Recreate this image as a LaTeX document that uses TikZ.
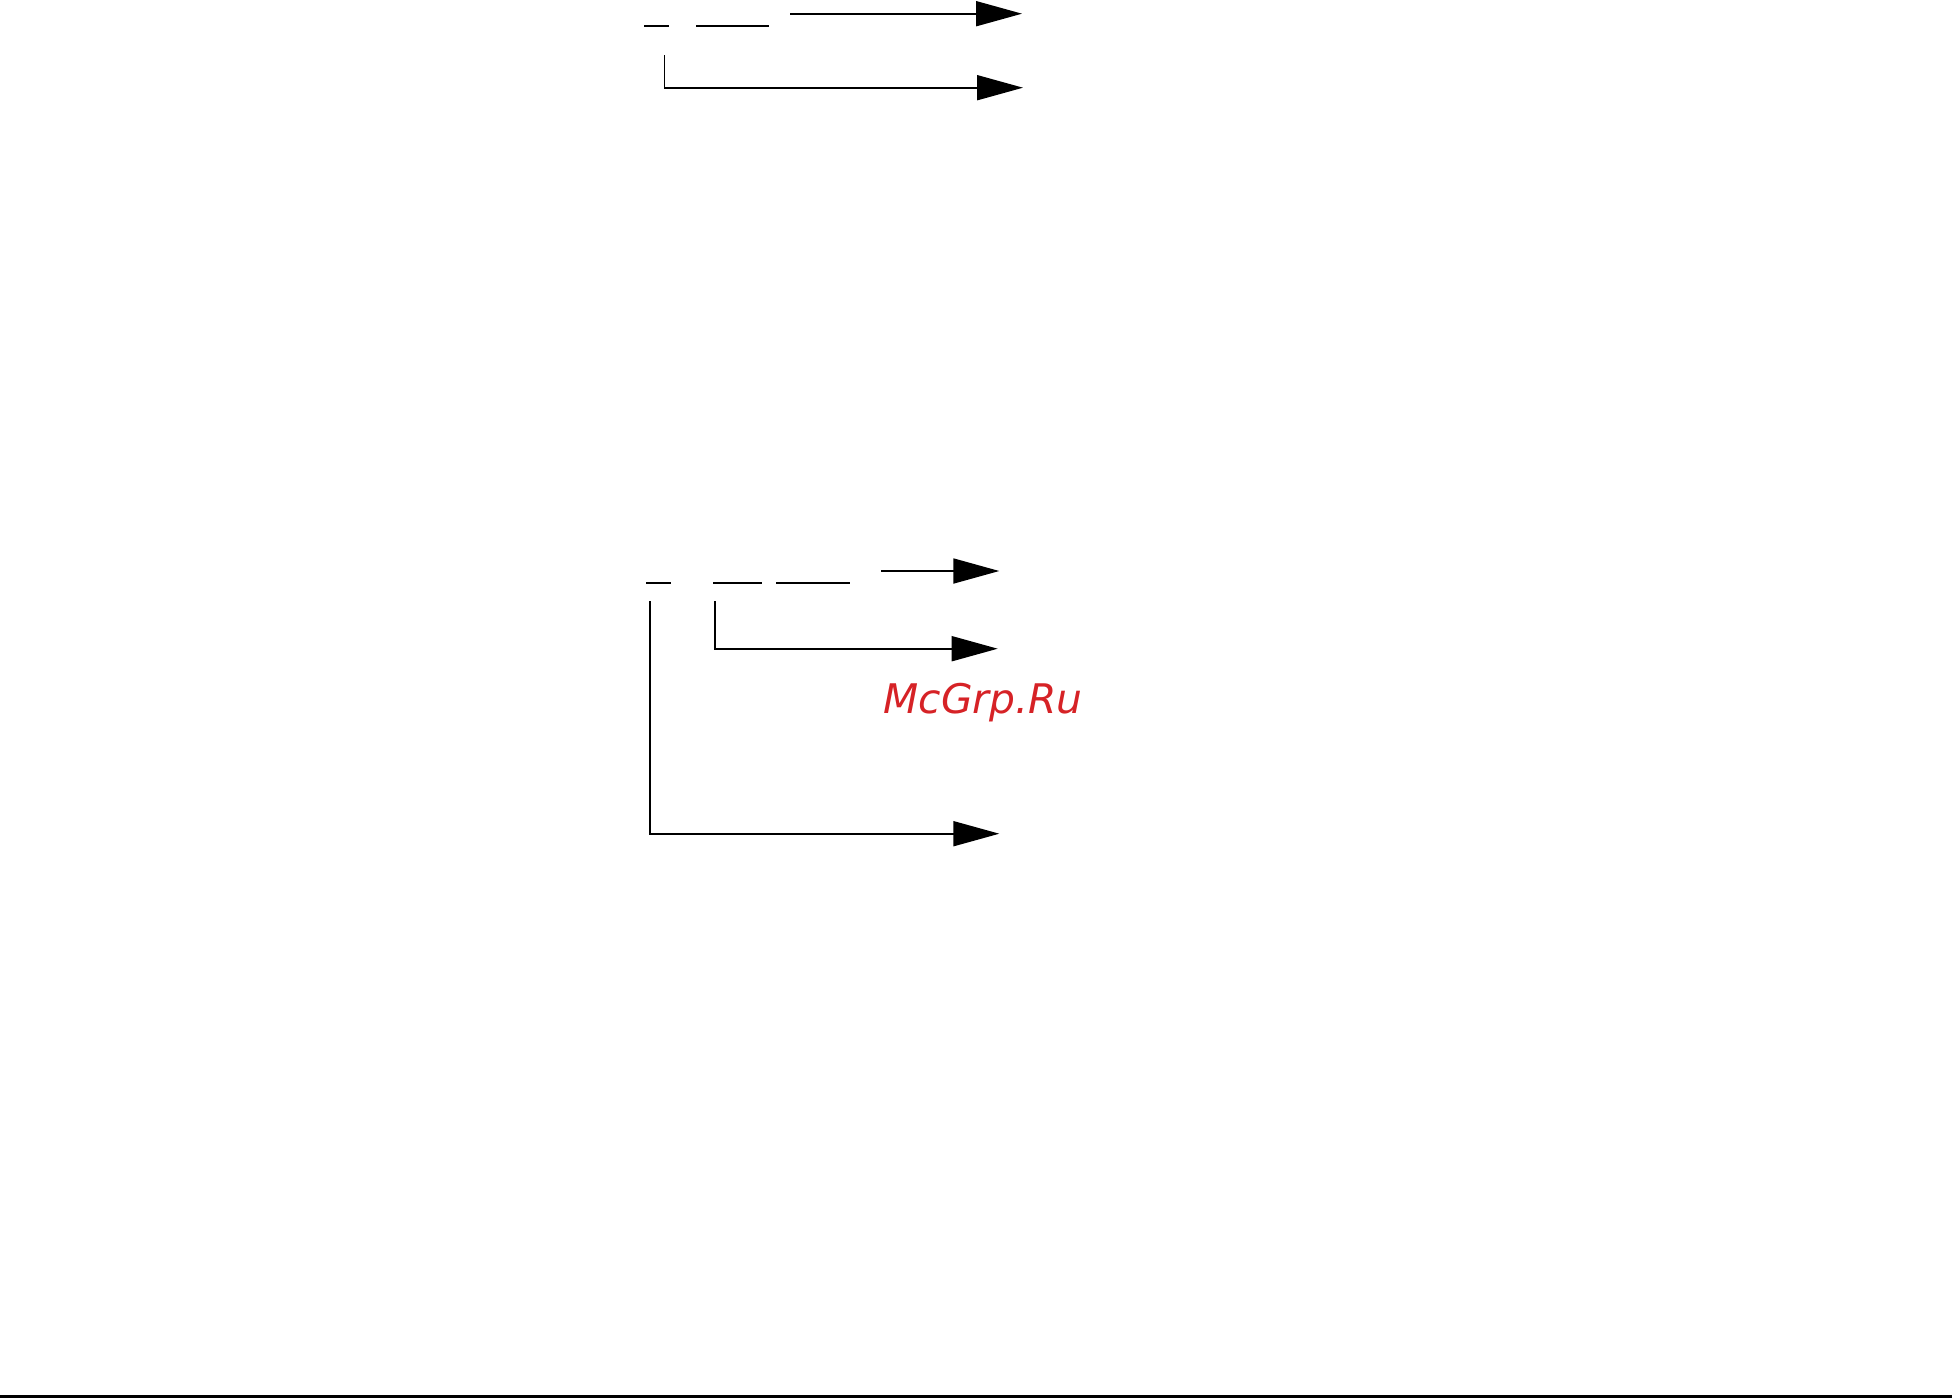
\documentclass[tikz,border=0pt]{standalone}
\usepackage{fontspec}
\newfontfamily\wmfont{DejaVu Sans}
\usetikzlibrary{arrows.meta}
\definecolor{wmred}{RGB}{214,34,38}
\tikzset{
  wire/.style={line width=0.9pt, line cap=butt},
  flow/.style={wire, -{Triangle[length=23pt,width=12.5pt]}},
  blank/.style={wire}
}
\begin{document}
\begin{tikzpicture}[x=0.5pt,y=-0.5pt]
\useasboundingbox (0,0) rectangle (1952,1398);
% upper group
\coordinate (u1a) at (644,25.7); \coordinate (u1b) at (669,25.7);
\coordinate (u2a) at (696,25.7); \coordinate (u2b) at (769,25.7);
\draw[blank] (u1a) -- (u1b);
\draw[blank] (u2a) -- (u2b);
\coordinate (ua0) at (790,13.7); \coordinate (ua1) at (1022,13.7);
\draw[flow] (ua0) -- (ua1);
\coordinate (ub0) at (664.5,55); \coordinate (ub1) at (1023,87.7);
\draw[flow] (ub0) |- (ub1);
% lower group
\coordinate (l1a) at (646,582.7); \coordinate (l1b) at (671,582.7);
\coordinate (l2a) at (713,582.7); \coordinate (l2b) at (762,582.7);
\coordinate (l3a) at (776,582.7); \coordinate (l3b) at (850,582.7);
\draw[blank] (l1a) -- (l1b);
\draw[blank] (l2a) -- (l2b);
\draw[blank] (l3a) -- (l3b);
\coordinate (la0) at (881,571); \coordinate (la1) at (999.3,571);
\draw[flow] (la0) -- (la1);
\coordinate (lb0) at (715,601); \coordinate (lb1) at (997.7,648.7);
\draw[flow] (lb0) |- (lb1);
\coordinate (lc0) at (650,601); \coordinate (lc1) at (999.3,833.7);
\draw[flow] (lc0) |- (lc1);
% watermark
\node[anchor=base west, inner sep=0pt, text=wmred, font=\wmfont\itshape\fontsize{20.4pt}{24pt}\selectfont] (wm) at (883,713.3) {McGrp.Ru};
% bottom rule
\coordinate (r0) at (0,1396.6); \coordinate (r1) at (1952,1396.6);
\draw[line width=1.3pt] (r0) -- (r1);
\end{tikzpicture}
\end{document}
